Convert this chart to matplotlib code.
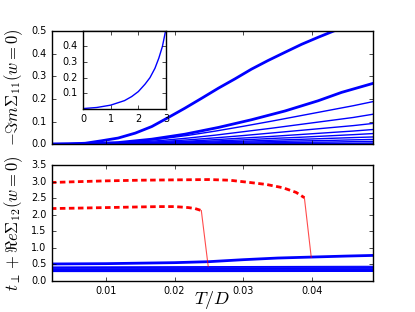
import matplotlib
matplotlib.use("Agg")
from matplotlib import pyplot as plt

plt.style.use("classic")
plt.rcParams["lines.scale_dashes"] = False

# --- data ---
# -Im Sigma_11, thick curves (each has its own T points)
T_c1 = [0.002, 0.0046, 0.0070, 0.0094, 0.0118, 0.0143, 0.0167, 0.0191, 0.0215, 0.0240,
        0.0264, 0.0288, 0.0312, 0.0336, 0.0361, 0.0385, 0.0409, 0.0431, 0.046]
c1 = [0.0, 0.001, 0.004, 0.015, 0.027, 0.049, 0.078, 0.118, 0.159, 0.204,
      0.248, 0.289, 0.332, 0.370, 0.407, 0.442, 0.473, 0.500, 0.535]
T_c2 = [0.002, 0.007, 0.0118, 0.0167, 0.0215, 0.0264, 0.0312, 0.0361, 0.0409, 0.0443, 0.049]
c2 = [0.0, 0.002, 0.007, 0.022, 0.044, 0.074, 0.108, 0.147, 0.192, 0.229, 0.270]

# -Im Sigma_11, thin curves
T = [0.002, 0.006, 0.010, 0.014, 0.018, 0.022, 0.026, 0.030, 0.034, 0.038, 0.042, 0.046, 0.049]
im_thin = [
    [0.0, 0.001, 0.004, 0.011, 0.023, 0.039, 0.058, 0.079, 0.101, 0.124, 0.147, 0.170, 0.189],
    [0.0, 0.001, 0.003, 0.008, 0.016, 0.027, 0.040, 0.055, 0.070, 0.086, 0.102, 0.118, 0.133],
    [0.0, 0.001, 0.002, 0.006, 0.011, 0.019, 0.028, 0.038, 0.049, 0.060, 0.071, 0.082, 0.092],
    [0.0, 0.0, 0.002, 0.004, 0.008, 0.013, 0.020, 0.027, 0.034, 0.042, 0.050, 0.058, 0.065],
    [0.0, 0.0, 0.001, 0.003, 0.006, 0.010, 0.014, 0.019, 0.025, 0.030, 0.036, 0.042, 0.047],
    [0.0, 0.0, 0.001, 0.002, 0.004, 0.007, 0.010, 0.013, 0.017, 0.021, 0.025, 0.029, 0.032],
    [0.0, 0.0, 0.0, 0.001, 0.003, 0.004, 0.006, 0.009, 0.011, 0.014, 0.016, 0.019, 0.021],
    [0.0, 0.0, 0.0, 0.001, 0.002, 0.002, 0.004, 0.005, 0.006, 0.008, 0.009, 0.011, 0.012],
    [0.0, 0.0, 0.0, 0.0, 0.001, 0.001, 0.002, 0.002, 0.003, 0.003, 0.004, 0.004, 0.005],
    [0.0, 0.0, 0.0, 0.0, 0.0, 0.0, 0.0, 0.0, 0.001, 0.001, 0.001, 0.001, 0.001],
]

# inset
x_in = [0.0, 0.5, 1.0, 1.5, 1.76, 2.0, 2.24, 2.42, 2.6, 2.74, 2.87, 2.98, 3.0]
y_in = [0.002, 0.009, 0.024, 0.053, 0.079, 0.111, 0.158, 0.200, 0.260, 0.325, 0.400, 0.496, 0.51]

# t_perp + Re Sigma_12, blue
T_re = [0.002, 0.010, 0.020, 0.025, 0.030, 0.035, 0.040, 0.045, 0.049]
re_top = [0.51, 0.52, 0.55, 0.58, 0.64, 0.69, 0.72, 0.75, 0.77]
T_b = [0.002, 0.025, 0.049]
re_bundle = [
    [0.42, 0.43, 0.44],
    [0.40, 0.41, 0.42],
    [0.38, 0.39, 0.40],
    [0.36, 0.37, 0.38],
    [0.345, 0.35, 0.36],
    [0.33, 0.335, 0.34],
    [0.315, 0.32, 0.325],
    [0.30, 0.305, 0.31],
    [0.29, 0.29, 0.295],
    [0.28, 0.28, 0.285],
]

# red dashed branches + the jump down
T_rA = [0.002, 0.005, 0.010, 0.015, 0.020, 0.025, 0.028, 0.031, 0.0334, 0.0358, 0.0377, 0.0389]
rA = [2.98, 3.00, 3.03, 3.05, 3.06, 3.07, 3.05, 2.98, 2.92, 2.82, 2.68, 2.52]
jumpA_T = [0.0389, 0.0399]
jumpA = [2.52, 0.71]
T_rB = [0.002, 0.005, 0.010, 0.015, 0.018, 0.020, 0.022, 0.023, 0.0239]
rB = [2.19, 2.20, 2.22, 2.24, 2.25, 2.25, 2.22, 2.19, 2.13]
jumpB_T = [0.0239, 0.0249]
jumpB = [2.13, 0.44]

xt = [0.01, 0.02, 0.03, 0.04]

fig = plt.figure(figsize=(4.15, 3.12), dpi=100, facecolor="white")

# top panel
ax1 = fig.add_axes([0.125, 0.538, 0.774, 0.362])
ax1.plot(T_c1, c1, color="b", lw=2)
ax1.plot(T_c2, c2, color="b", lw=2)
for y in im_thin:
    ax1.plot(T, y, color="b", lw=1)
ax1.set_xlim(0.00215, 0.0489)
ax1.set_ylim(0, 0.5)
ax1.set_xticks(xt)
ax1.set_xticklabels([])
ax1.set_yticks([0.0, 0.1, 0.2, 0.3, 0.4, 0.5])
ax1.tick_params(labelsize=7, length=3)
ax1.set_ylabel(r"$-\Im m\Sigma_{11}(w=0)$", fontsize=12)
ax1.yaxis.set_label_coords(-0.085, 0.5)

# inset
ax3 = fig.add_axes([0.2, 0.651, 0.2, 0.25])
ax3.plot(x_in, y_in, color="b", lw=1)
ax3.set_xlim(0, 3)
ax3.set_ylim(0, 0.5)
ax3.set_xticks([0, 1, 2, 3])
ax3.set_yticks([0.1, 0.2, 0.3, 0.4])
ax3.tick_params(labelsize=7, length=3)

# bottom panel
ax2 = fig.add_axes([0.125, 0.1, 0.774, 0.37])
for y in re_bundle:
    ax2.plot(T_b, y, color="b", lw=0.8)
ax2.plot(T_re, re_top, color="b", lw=2)
ax2.plot(T_rA, rA, color="r", lw=2, dashes=(4, 2.5))
ax2.plot(T_rB, rB, color="r", lw=2, dashes=(4, 2.5))
ax2.plot(jumpA_T, jumpA, color="r", lw=0.8, alpha=0.7)
ax2.plot(jumpB_T, jumpB, color="r", lw=0.8, alpha=0.7)
ax2.set_xlim(0.00215, 0.0489)
ax2.set_ylim(0, 3.5)
ax2.set_xticks(xt)
ax2.set_yticks([0.0, 0.5, 1.0, 1.5, 2.0, 2.5, 3.0, 3.5])
ax2.tick_params(labelsize=7, length=3)
ax2.set_xlabel(r"$T/D$", fontsize=13)
ax2.xaxis.set_label_coords(0.5, -0.075)
ax2.set_ylabel(r"$t_\perp+\Re e\Sigma_{12}(w=0)$", fontsize=12)
ax2.yaxis.set_label_coords(-0.085, 0.5)

fig.savefig("out.png", dpi=100, facecolor="white")
